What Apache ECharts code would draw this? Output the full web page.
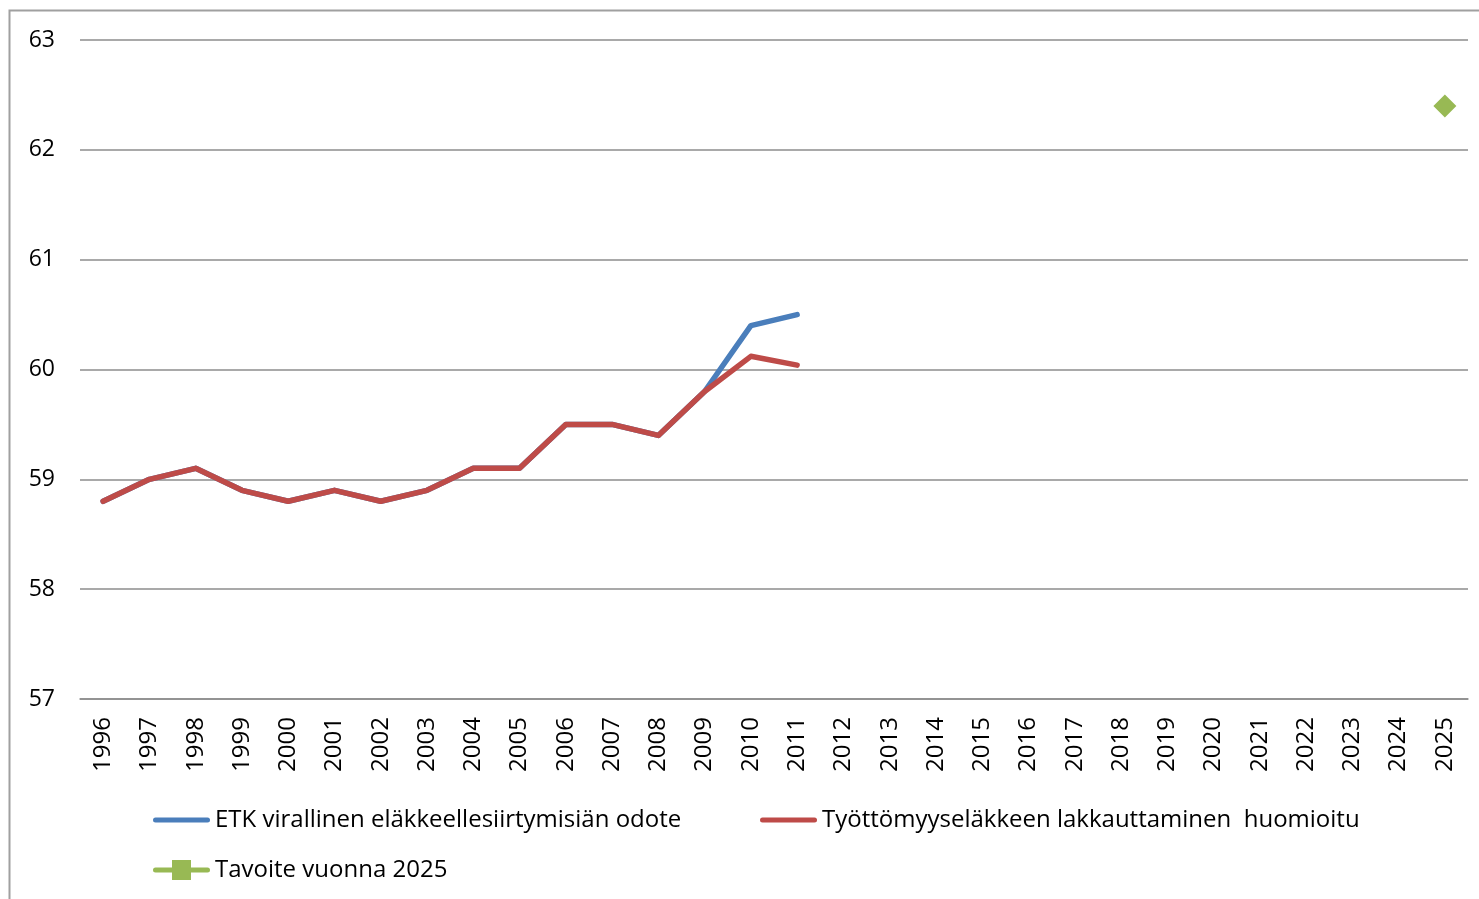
<!DOCTYPE html>
<html><head><meta charset="utf-8">
<script src="https://cdn.jsdelivr.net/npm/echarts@6/dist/echarts.min.js"></script>
<style>html,body{margin:0;padding:0;background:#fff;}#c{width:1479px;height:899px;}</style>
</head><body><div id="c"></div>
<script>
const years = ['1996','1997','1998','1999','2000','2001','2002','2003','2004','2005','2006','2007','2008','2009','2010','2011','2012','2013','2014','2015','2016','2017','2018','2019','2020','2021','2022','2023','2024','2025'];
const etkValues = [58.8,59.0,59.1,58.9,58.8,58.9,58.8,58.9,59.1,59.1,59.5,59.5,59.4,59.8,60.4,60.5];
const tyottomyysValues = [58.8,59.0,59.1,58.9,58.8,58.9,58.8,58.9,59.1,59.1,59.5,59.5,59.4,59.8,60.12,60.04];
const tavoiteValues = [null,null,null,null,null,null,null,null,null,null,null,null,null,null,null,null,null,null,null,null,null,null,null,null,null,null,null,null,null,62.4];
const seriesNames = ['ETK virallinen eläkkeellesiirtymisiän odote','Työttömyyseläkkeen lakkauttaminen  huomioitu','Tavoite vuonna 2025'];
const yTicks = {min:57,max:63,interval:1};

const FONT = '"Open Sans", sans-serif';
const chart = echarts.init(document.getElementById('c'));
const lineIcon = 'path://M2.5,7.5 L54.5,7.5 A2.5,2.5 0 0 1 54.5,12.5 L2.5,12.5 A2.5,2.5 0 0 1 2.5,7.5 Z';
const greenIcon = 'path://M2.5,7.5 L19,7.5 L19,0 L38,0 L38,7.5 L54.5,7.5 A2.5,2.5 0 0 1 54.5,12.5 L38,12.5 L38,20 L19,20 L19,12.5 L2.5,12.5 A2.5,2.5 0 0 1 2.5,7.5 Z';
const legendBase = {orient:'horizontal', selectedMode:false, itemWidth:57, itemHeight:20, itemGap:0, symbolKeepAspect:true,
  textStyle:{fontFamily:FONT, fontSize:24, color:'#000', padding:[0,0,0,0]}, padding:0};
chart.setOption({
  animation:false,
  backgroundColor:'#fff',
  grid:{left:80,right:11,top:40,bottom:200,containLabel:false},
  graphic:[{type:'rect',shape:{x:9.5,y:10.5,width:1480,height:900},style:{fill:'none',stroke:'#a0a0a0',lineWidth:2},z:-1}],
  legend:[
    Object.assign({}, legendBase, {left:153, top:808, data:[{name:seriesNames[0], icon:lineIcon}]}),
    Object.assign({}, legendBase, {left:760, top:808, data:[{name:seriesNames[1], icon:lineIcon}]}),
    Object.assign({}, legendBase, {left:153, top:858, data:[{name:seriesNames[2], icon:greenIcon}]})
  ],
  xAxis:{type:'category', data:years, boundaryGap:true,
    axisLine:{show:true, lineStyle:{color:'#8c8c8c', width:1.5}},
    axisTick:{show:false},
    axisLabel:{rotate:90, interval:0, margin:18, fontFamily:FONT, fontSize:24, color:'#000'}},
  yAxis:{type:'value', min:yTicks.min, max:yTicks.max, interval:yTicks.interval,
    axisLine:{show:false}, axisTick:{show:false},
    splitLine:{show:true, lineStyle:{color:'#8c8c8c', width:1.5}},
    axisLabel:{margin:25, fontFamily:FONT, fontSize:23, color:'#000', padding:[4,0,0,0]}},
  series:[
    {name:seriesNames[0], type:'line', data:etkValues, symbol:'none', color:'#4a7ebb',
     lineStyle:{color:'#4a7ebb', width:5.5, cap:'round', join:'round'}, z:2},
    {name:seriesNames[1], type:'line', data:tyottomyysValues, symbol:'none', color:'#be4b48',
     lineStyle:{color:'#be4b48', width:5.5, cap:'round', join:'round'}, z:3},
    {name:seriesNames[2], type:'line', data:tavoiteValues, symbol:'diamond', symbolSize:23, color:'#98b954',
     itemStyle:{color:'#98b954'}, lineStyle:{color:'#98b954', width:5}, showSymbol:true, z:4}
  ]
});
</script></body></html>
